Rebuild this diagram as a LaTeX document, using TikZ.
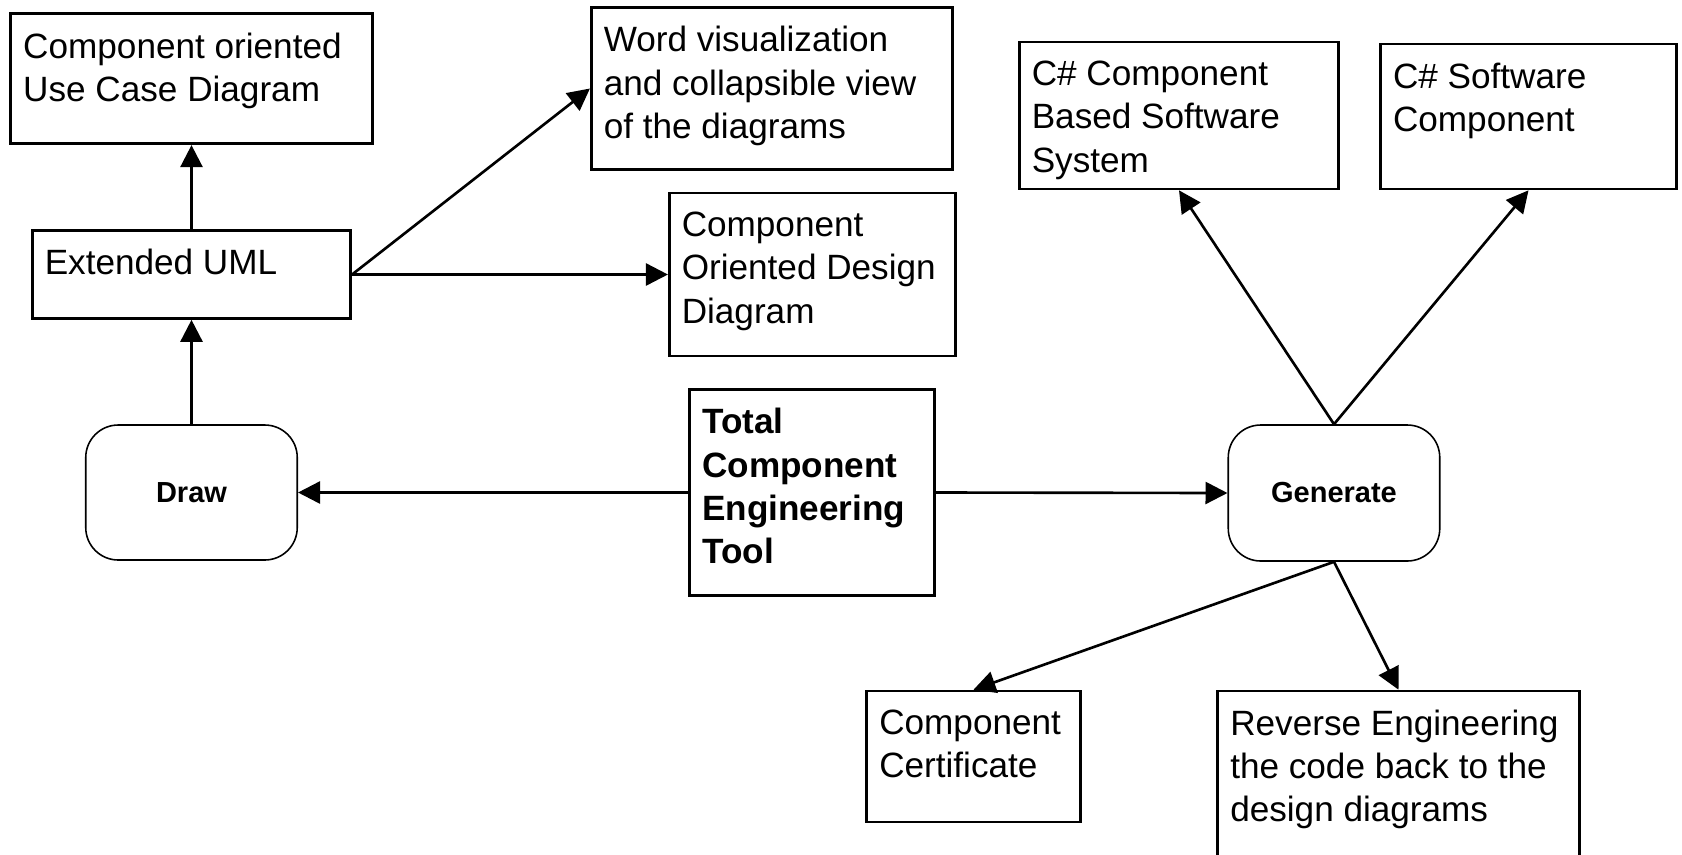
\documentclass[tikz,border=0pt]{standalone}
\usepackage{fontspec}
\setmainfont{Liberation Sans}
\usetikzlibrary{arrows.meta}
% top-left text inside a box of given outer size
\newcommand{\boxtxt}[3]{\parbox[t][\dimexpr#2-0.76cm\relax][t]{\dimexpr#1-0.5cm\relax}{\raggedright#3}}
\begin{document}
\begin{tikzpicture}[>={Triangle[length=12.5pt,width=12.5pt]},
	every node/.style={font=\fontsize{20}{24.6}\selectfont},
	textbox/.style={draw,line width=1.5pt,inner xsep=0.25cm,inner ysep=0.38cm},
	action/.style={draw,line width=0.9pt,rounded corners=0.65cm,
		font=\fontsize{16.5}{19}\selectfont\bfseries},
	link/.style={->,line width=1.5pt}]
	
	\useasboundingbox (0,0) rectangle (33.64,-17.08);
	
	\node[textbox] (uc) at (3.83,-1.576) {\boxtxt{7.23cm}{2.60cm}{Component oriented\\Use Case Diagram}};
	\node[textbox] (euml) at (3.83,-5.49) {\boxtxt{6.37cm}{1.76cm}{Extended UML}};
	\node[textbox] (word) at (15.44,-1.77) {\boxtxt{7.23cm}{3.24cm}{Word visualization\\and collapsible view\\of the diagrams}};
	\node[textbox] (design) at (16.25,-5.49) {\boxtxt{5.73cm}{3.26cm}{Component\\Oriented Design\\Diagram}};
	\node[textbox] (csys) at (23.58,-2.31) {\boxtxt{6.39cm}{2.94cm}{C\# Component\\Based Software\\System}};
	\node[textbox] (ccomp) at (30.57,-2.33) {\boxtxt{5.92cm}{2.90cm}{C\# Software\\Component}};
	\node[textbox] (tool) at (16.24,-9.85) {\boxtxt{4.89cm}{4.12cm}{\bfseries Total\\Component\\Engineering\\Tool}};
	\node[textbox] (cert) at (19.47,-15.13) {\boxtxt{4.27cm}{2.62cm}{Component\\Certificate}};
	\node[textbox] (rev) at (27.97,-15.61) {\boxtxt{7.23cm}{3.58cm}{Reverse Engineering\\the code back to the\\design diagrams}};
	
	\node[action,minimum width=4.23cm,minimum height=2.70cm] (draw) at (3.83,-9.85) {Draw};
	\node[action,minimum width=4.23cm,minimum height=2.72cm] (gen) at (26.68,-9.86) {Generate};
	
	\draw[link] (euml.north) -- (uc.south);
	\draw[link] (draw.north) -- (euml.south);
	\draw[link] (euml.east) -- (word.west);
	\draw[link] (euml.east) -- (design.west);
	\draw[link] (tool.west) -- (draw.east);
	\draw[link] (tool.east) -- (gen.west);
	\draw[link] (gen.north) -- (csys.south);
	\draw[link] (gen.north) -- (ccomp.south);
	\draw[link] (gen.south) -- (cert.north);
	\draw[link] (gen.south) -- (rev.north);
\end{tikzpicture}
\end{document}
